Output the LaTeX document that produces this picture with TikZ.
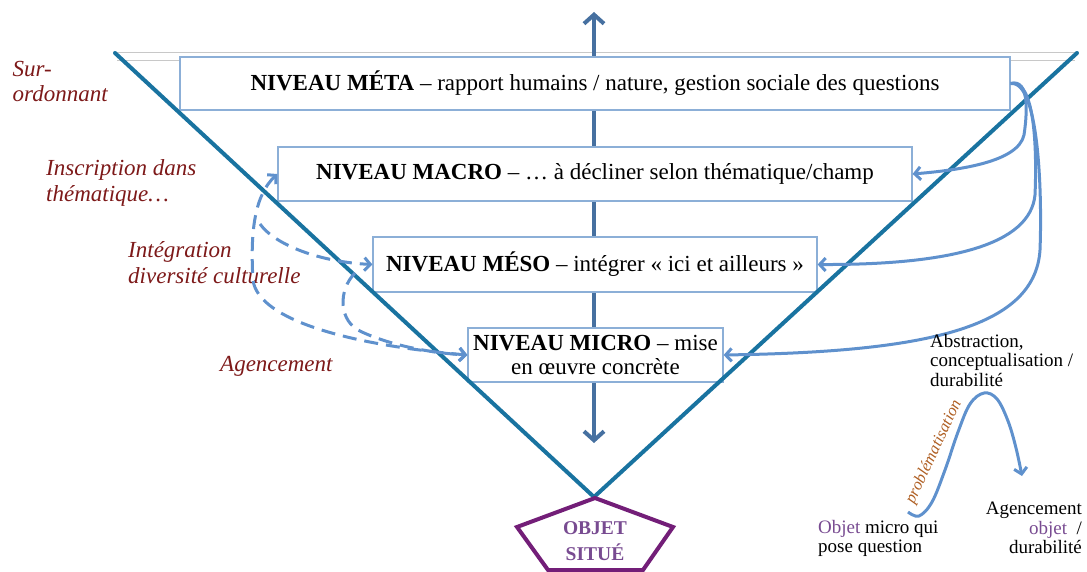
\documentclass[tikz,border=0pt]{standalone}
\usepackage{fontspec}
\setmainfont{Liberation Serif}
\usetikzlibrary{arrows.meta}
\definecolor{boxblue}{RGB}{140,175,215}
\definecolor{vteal}{RGB}{25,115,160}
\definecolor{steel}{RGB}{70,112,160}
\definecolor{curveblue}{RGB}{95,145,205}
\definecolor{labelred}{RGB}{125,25,25}
\definecolor{purp}{RGB}{115,30,120}
\definecolor{purptext}{RGB}{120,75,145}
\definecolor{probbrown}{RGB}{175,95,35}
\definecolor{topgrey}{RGB}{200,200,200}
\begin{document}
\begin{tikzpicture}[x=1pt,y=-1pt,
  lvl/.style={draw=boxblue, line width=1.2pt, fill=white, inner sep=0pt,
    font=\fontsize{23}{24.5}\selectfont, align=center},
  lab/.style={text=labelred, font=\fontsize{23}{25.5}\selectfont\itshape,
    align=left, inner sep=0pt, anchor=north west},
  side/.style={font=\fontsize{19}{19.5}\selectfont, inner sep=0pt},
  tipb/.tip={Straight Barb[length=6pt,width=13pt,line width=3pt]},
  link/.style={draw=curveblue, line width=3pt, -tipb},
  dlink/.style={link, dash pattern=on 14pt off 8pt},
  vline/.style={draw=vteal, line width=4pt},
]
\useasboundingbox (0,0) rectangle (1087,572);

% top thin lines
\coordinate (tl) at (115,52.5);
\coordinate (tr) at (1077,52.5);
\coordinate (tl2) at (117,60);
\coordinate (tr2) at (1075,60);
\draw[topgrey, line width=1pt] (tl) -- (tr);
\draw[topgrey, line width=0.8pt] (tl2) -- (tr2);

% central double arrow
\coordinate (atop) at (594,12);
\coordinate (abot) at (594,443);
\draw[steel, line width=4pt,
  {Straight Barb[length=9pt,width=20pt,line width=4pt]}-{Straight Barb[length=9pt,width=20pt,line width=4pt]}]
  (abot) -- (atop);

% level boxes
\node[lvl, minimum width=830pt, minimum height=53pt] (meta) at (595,83.5)
  {\textbf{NIVEAU MÉTA} – rapport humains / nature, gestion sociale des questions};
\node[lvl, minimum width=634pt, minimum height=54pt] (macro) at (595,174)
  {\textbf{NIVEAU MACRO} – … à décliner selon thématique/champ};
\node[lvl, minimum width=444pt, minimum height=55pt] (meso) at (595,264.5)
  {\textbf{NIVEAU MÉSO} – intégrer «~ici et ailleurs~»};
\node[lvl, minimum width=255pt, minimum height=54pt] (micro) at (595.5,355)
  {\textbf{NIVEAU MICRO} – mise\\en œuvre concrète};

% V lines
\coordinate (vl) at (115,53);
\coordinate (vr) at (1077,53);
\coordinate (vb) at (594,497);
\draw[vline, line cap=round] (vl) -- (vb) -- (vr);

% pentagon
\draw[purp, line width=4pt, fill=white, line join=miter]
  (595,498) -- (673,527) -- (643,570) -- (548,570) -- (517,527) -- cycle;
\node[text=purptext, font=\fontsize{19.5}{26}\selectfont\bfseries, align=center, inner sep=0pt]
  (objet) at (595,541) {OBJET\\SITUÉ};

% left labels
\node[lab] (sur) at (12.5,61) {Sur-\\ordonnant};
\node[lab] (inscr) at (46,159.5) {Inscription dans\\thématique…};
\node[lab] (integ) at (128,241.5) {Intégration\\diversité culturelle};
\node[lab] (agen) at (220,356.5) {Agencement};

% dashed arrows on the left
\coordinate (dP2s) at (260,224);
\coordinate (dP3s) at (355,273);
\draw[dlink, tipb-tipb] (macro.west) .. controls (255,195) and (250,230) .. (253,280)
  .. controls (258,320) and (350,345) .. (micro.west);
\draw[dlink] (dP2s) .. controls (275,245) and (320,262) .. (meso.west);
\draw[dlink] (dP3s) .. controls (338,290) and (338,322) .. (362,332)
  .. controls (390,345) and (430,353) .. (micro.west);

% solid arrows on the right
\draw[link] (meta.east) .. controls (1030,78) and (1027,115) .. (1024,135)
  .. controls (1018,162) and (960,170) .. (macro.east);
\draw[link] (meta.east) .. controls (1035,78) and (1037,150) .. (1035,195)
  .. controls (1030,245) and (950,265) .. (meso.east);
\draw[link] (meta.east) .. controls (1040,80) and (1042,200) .. (1040,250)
  .. controls (1035,330) and (920,352) .. (micro.east);

% right side texts
\node[side, anchor=north west, align=left] (abstr) at (930,334)
  {Abstraction,\\conceptualisation /\\durabilité};
\node[side, anchor=north west, align=left] (omicro) at (818,520)
  {\textcolor{purptext}{Objet} micro qui\\pose question};
\node[side, anchor=north east, align=right] (agobj) at (1082,502)
  {Agencement\\\textcolor{purptext}{objet}~~/\\durabilité};

% wave
\coordinate (ws) at (908,512);
\coordinate (we) at (1022,476);
\draw[link] plot[smooth, tension=0.6] coordinates {(ws) (919,516) (932,502) (945,470)
  (958,432) (970,404) (984,393) (997,399) (1008,421) (1016,448) (we)};
\node[text=probbrown, font=\fontsize{16.5}{18}\selectfont\itshape, rotate=65, inner sep=0pt]
  (prob) at (934,452) {problématisation};
\end{tikzpicture}
\end{document}
